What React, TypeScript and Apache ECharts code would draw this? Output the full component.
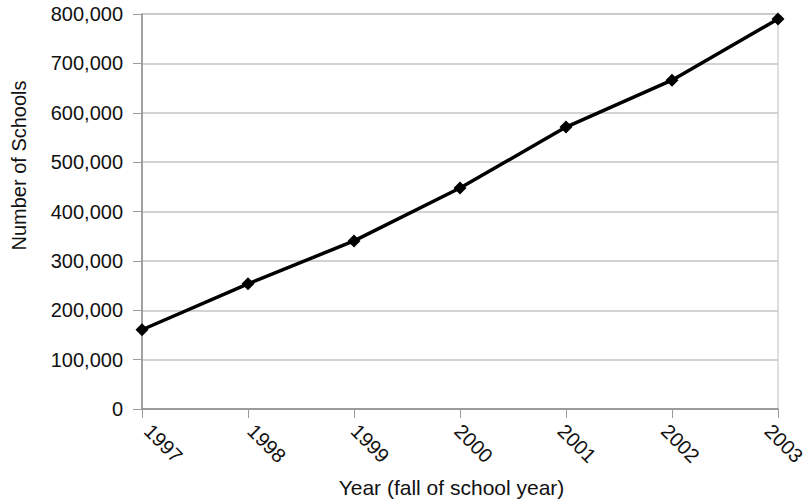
import React, { useEffect, useRef } from "react";
import * as echarts from "echarts";

const years = ["1997", "1998", "1999", "2000", "2001", "2002", "2003"];
const schools = [160500, 253500, 340500, 447500, 571000, 666000, 790000];
const yTicks = [0, 100000, 200000, 300000, 400000, 500000, 600000, 700000, 800000];

const FONT = "'Liberation Sans', Arial, Helvetica, sans-serif";

export default function App() {
  const ref = useRef<HTMLDivElement>(null);
  useEffect(() => {
    if (!ref.current) return;
    const chart = echarts.init(ref.current, undefined, { renderer: "svg" });
    chart.setOption({
      animation: false,
      backgroundColor: "#ffffff",
      textStyle: { fontFamily: FONT },
      grid: [
        {
          left: 142,
          right: 26,
          top: 14,
          bottom: 95,
          containLabel: false,
          outerBoundsMode: "none",
          show: true,
          borderColor: "#bdbdbd",
          borderWidth: 1,
        },
        {
          left: 142,
          right: 41.5,
          top: 14,
          bottom: 95,
          containLabel: false,
          outerBoundsMode: "none",
          show: false,
        },
      ],
      xAxis: [
        {
          type: "category",
          gridIndex: 0,
          data: years,
          boundaryGap: false,
          name: "Year (fall of school year)",
          nameLocation: "middle",
          nameGap: 68,
          nameTextStyle: { fontSize: 21, color: "#111", fontFamily: FONT, padding: [0, 17, 0, 0] },
          axisLine: { lineStyle: { color: "#8c8c8c", width: 1.5 } },
          axisTick: { show: true, length: 9, alignWithLabel: true, lineStyle: { color: "#9a9a9a", width: 1 } },
          axisLabel: { show: false },
          splitLine: { show: false },
        },
        {
          type: "category",
          gridIndex: 1,
          data: years,
          boundaryGap: false,
          axisLine: { show: false },
          axisTick: { show: false },
          axisLabel: { rotate: -45, fontSize: 20, color: "#111", margin: 13, fontFamily: FONT, padding: [0, 0, 0, 8] },
          splitLine: { show: false },
        },
      ],
      yAxis: [
        {
          type: "value",
          gridIndex: 0,
          min: 0,
          max: 800000,
          interval: 100000,
          name: "Number of Schools",
          nameLocation: "middle",
          nameGap: 113,
          nameTextStyle: { fontSize: 20, color: "#111", fontFamily: FONT, padding: [0, 0, 0, 92] },
          axisLine: { show: true, lineStyle: { color: "#8c8c8c", width: 1.5 } },
          axisTick: { show: true, length: 9, lineStyle: { color: "#9a9a9a", width: 1 } },
          axisLabel: {
            fontSize: 20,
            color: "#111",
            margin: 19,
            fontFamily: FONT,
            customValues: yTicks,
            formatter: (v: number) => (v === 0 ? "0" : v.toLocaleString("en-US")),
          },
          splitLine: { show: true, lineStyle: { color: "#c4c4c4", width: 1.5 } },
        },
        {
          type: "value",
          gridIndex: 1,
          min: 0,
          max: 800000,
          show: false,
        },
      ],
      series: [
        {
          type: "line",
          xAxisIndex: 0,
          yAxisIndex: 0,
          data: schools,
          symbol: "diamond",
          symbolSize: 13,
          lineStyle: { color: "#000", width: 3.5 },
          itemStyle: { color: "#000" },
        },
      ],
    });
    return () => chart.dispose();
  }, []);
  return (
    <div
      ref={ref}
      style={{ position: "fixed", left: 0, top: 0, width: 804, height: 504 }}
    />
  );
}
